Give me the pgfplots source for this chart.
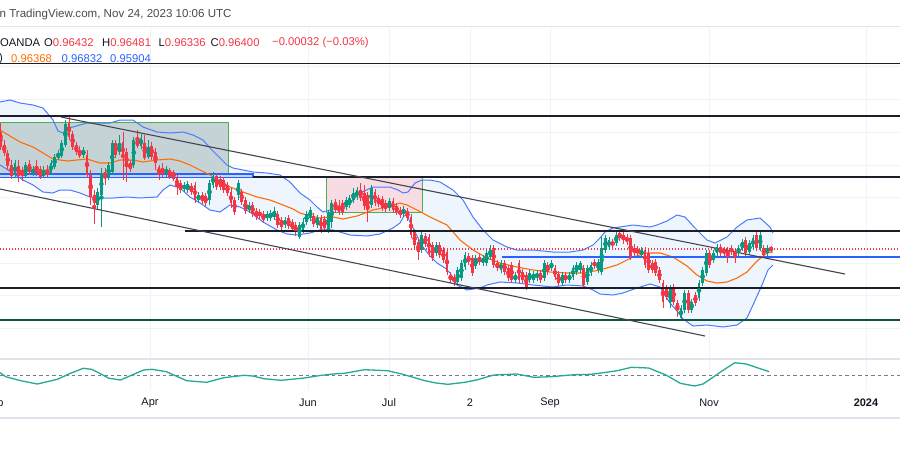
\documentclass[border=0pt]{standalone}
\usepackage{pgfplots}
\pgfplotsset{compat=1.18}
\usepackage{pgfplotstable}
\usepackage{fontspec}
\setmainfont{Liberation Sans}
\definecolor{cgreen}{HTML}{089981}
\definecolor{cred}{HTML}{F23645}
\definecolor{bbline}{HTML}{2962FF}
\definecolor{bbfill}{HTML}{EEF5FD}
\definecolor{sma}{HTML}{FF6D00}
\definecolor{gridc}{HTML}{F0F3FA}
\definecolor{sepc}{HTML}{E0E3EB}
\definecolor{txt}{HTML}{131722}
\definecolor{ttl}{HTML}{4A4A4A}
\definecolor{hline}{HTML}{1B1E27}
\definecolor{chan}{HTML}{434651}
\definecolor{boxgray}{HTML}{C5D3D6}
\definecolor{boxgreen}{HTML}{4CAF50}
\definecolor{pinkfill}{HTML}{F8DCE3}
\definecolor{bluerect}{HTML}{C4D8FB}
\definecolor{osc}{HTML}{22AB94}
\definecolor{dgreen}{HTML}{0E5240}
\definecolor{dashc}{HTML}{787B86}

% candles: k = index (x = 0.6 + 3.6 k px), bt/bb body top/bottom, wt/wb wick top/bottom (pixel rows)
\pgfplotstableread{
k bt bb wt wb
4 163 175 160 178
7 165 176 162 178
9 169 174 166 176
12 170 176 166 178
14 163 173 160 175
15 157 167 154 169
16 153 158 150 160
17 143 156 140 158
18 124 145 120 147
23 150 155 147 158
27 192 205 188 210
28 173 195 168 227
30 165 177 162 180
31 143 172 140 174
33 143 152 135 155
37 140 165 137 168
39 138 146 134 149
41 147 157 140 159
46 169 173 166 177
51 185 189 182 192
52 184 190 181 193
55 195 200 192 203
58 183 200 180 205
59 176 185 172 188
66 183 195 180 200
69 205 210 202 213
74 214 218 211 221
75 213 218 210 221
76 211 217 207 220
79 220 225 217 228
83 225 237 222 239
84 222 230 218 233
85 214 222 211 225
86 210 218 207 221
88 218 225 215 228
91 213 230 210 233
92 203 222 200 228
96 200 207 197 210
97 198 205 195 208
98 193 200 188 203
99 190 197 187 200
103 188 205 185 208
108 201 208 198 211
112 209 214 206 217
117 235 250 232 253
121 245 253 242 256
127 270 282 267 285
128 263 278 260 281
129 255 267 252 270
132 258 266 255 269
134 258 263 255 266
135 253 263 250 266
136 250 257 245 260
139 263 270 260 273
143 275 280 272 283
147 273 280 270 283
148 274 280 271 283
149 273 278 270 281
151 263 278 260 281
153 263 268 260 271
156 275 283 272 286
158 275 280 272 283
159 268 277 265 280
160 265 272 262 275
161 263 270 261 273
163 268 282 265 285
164 265 273 262 276
166 262 270 259 273
167 248 272 237 275
168 238 250 235 253
169 240 247 237 250
171 235 243 232 246
178 250 255 247 258
186 288 302 285 308
189 308 318 305 320
190 293 310 290 313
192 302 310 299 313
194 283 298 280 301
195 270 283 267 286
196 253 273 250 276
198 253 260 250 263
199 247 253 244 256
205 248 253 245 256
206 242 248 239 251
208 243 252 240 255
209 238 247 235 250
211 235 248 232 251
213 248 253 245 256
}\upc

\pgfplotstableread{
k bt bb wt wb
0 132 147 123 150
1 145 153 140 156
2 153 166 150 170
3 165 176 160 179
5 166 176 160 182
6 170 176 167 181
8 164 172 160 175
10 166 173 160 176
11 169 177 166 179
13 170 175 165 177
19 123 137 117 140
20 134 147 131 150
21 145 152 142 155
22 150 156 146 158
24 155 175 150 178
25 175 197 170 205
26 195 203 190 224
29 172 177 168 185
32 143 155 140 158
34 142 158 132 180
35 152 167 148 182
36 163 169 160 172
38 140 146 130 148
40 143 158 135 160
42 146 157 142 160
43 152 163 148 170
44 167 174 165 180
45 168 174 163 178
47 170 177 168 179
48 172 179 170 181
49 178 186 175 195
50 183 190 180 193
53 186 192 183 195
54 185 200 182 203
56 195 201 192 204
57 196 203 193 206
60 176 187 173 190
61 179 187 176 190
62 180 190 177 193
63 185 193 182 196
64 192 203 188 208
65 200 212 197 215
67 192 202 189 205
68 200 211 197 214
70 205 214 202 217
71 211 217 208 220
72 212 216 209 219
73 214 220 211 223
77 214 225 211 228
78 220 227 217 230
80 218 226 215 229
81 222 229 219 232
82 225 232 222 236
87 216 224 213 227
89 218 230 215 233
90 219 228 216 231
93 202 210 199 213
94 206 212 200 215
95 203 212 200 215
100 190 198 183 201
101 193 206 185 210
102 195 210 192 222
104 192 203 189 206
105 198 204 195 207
106 199 208 196 211
107 203 209 200 212
109 201 210 198 213
110 206 212 203 215
111 210 215 207 218
113 211 218 208 221
114 217 235 214 238
115 232 245 229 248
116 242 252 238 260
118 236 244 233 247
119 237 253 234 257
120 245 258 242 261
122 245 255 242 258
123 250 260 247 263
124 252 272 249 275
125 275 280 272 283
126 277 282 274 286
130 256 262 253 265
131 258 273 255 276
133 257 262 254 265
137 248 265 245 268
138 263 268 260 271
140 263 272 260 275
141 268 278 265 281
142 265 280 262 283
144 263 280 260 283
145 272 280 269 283
146 275 287 272 290
150 273 280 270 283
152 265 272 262 275
154 268 277 265 280
155 274 283 271 286
157 275 280 272 283
162 268 285 265 288
165 262 266 259 269
170 242 245 239 248
172 233 238 230 241
173 235 240 232 244
174 237 242 234 245
175 238 257 235 260
176 248 253 244 256
177 250 253 246 256
179 250 265 247 268
180 253 270 250 273
181 263 270 260 273
182 262 273 259 276
183 270 280 267 283
184 283 302 280 308
185 288 297 285 300
187 287 302 284 305
188 303 310 300 317
191 293 310 290 313
193 295 303 292 306
197 253 265 250 268
200 247 253 244 256
201 250 253 247 256
202 250 255 247 263
203 248 252 245 255
204 252 255 249 263
207 240 253 237 256
210 235 248 232 251
212 248 255 245 258
214 248 250 246 252
}\dnc

\pgfplotstableread{
x y
0 102
10 100
20 103
33 105
43 108
53 120
58 131
63 133
67 128
73 127
87 123
100 123
110 123
120 120
133 120
143 127
157 132
170 133
183 132
193 135
203 140
210 148
217 155
227 165
233 168
243 170
253 172
267 173
280 175
290 182
300 193
310 200
317 207
323 212
330 210
340 207
350 203
360 193
373 187
390 187
398 190
403 193
408 192
415 183
422 180
430 180
440 182
453 190
463 200
473 217
483 230
493 240
507 247
517 250
533 250
553 252
570 252
583 250
593 245
600 238
605 232
613 228
633 225
650 227
657 225
667 221
677 215
685 217
695 228
707 240
715 243
727 237
737 227
747 220
760 218
770 227
773 233
}\bbu

\pgfplotstableread{
x y
0 165
13 173
23 180
33 185
43 192
53 193
60 190
70 190
80 193
90 197
100 198
113 198
127 197
140 198
157 197
163 190
170 185
180 188
190 197
200 203
210 210
220 212
230 205
240 207
250 212
263 222
277 230
287 234
297 235
310 233
323 229
333 230
350 235
367 236
380 234
393 228
400 223
404 216
407 215
410 222
417 236
423 247
430 256
437 263
445 268
450 273
457 285
467 290
480 288
487 285
500 282
517 283
533 285
553 287
567 285
583 286
593 290
600 294
613 295
623 293
637 288
650 284
660 287
670 303
677 311
683 319
693 326
707 325
723 327
737 325
747 318
753 305
762 285
768 270
773 265
}\bbl

\pgfplotstableread{
x y
0 130
10 136
20 142
33 147
43 153
53 159
67 161
87 159
100 163
110 163
120 160
133 160
143 162
157 160
170 159
180 161
190 165
200 170
210 175
220 181
230 187
243 192
257 197
270 200
283 205
293 209
300 213
310 216
320 218
333 217
343 219
357 216
373 210
387 207
400 203
407 205
417 210
430 217
447 225
460 240
473 250
487 258
500 263
517 267
533 270
550 272
567 273
583 273
600 270
617 265
633 257
647 253
660 253
673 257
687 266
697 275
707 281
717 283
727 282
737 278
747 272
757 261
767 253
773 252
}\sma

\begin{document}
\begin{tikzpicture}
\path[use as bounding box] (0,0) rectangle (900bp,-453bp);
\begin{axis}[at={(0,0)}, anchor=north west, width=900bp, height=453bp,
  scale only axis, xmin=0, xmax=900, ymin=0, ymax=453, y dir=reverse,
  axis lines=none, xtick=\empty, ytick=\empty, clip=true]

% grid
\pgfplotsinvokeforeach{150,308,389,470,550,709,866}{
  \draw[gridc, line width=1bp] (axis cs:#1,27) -- (axis cs:#1,390);}
\pgfplotsinvokeforeach{66,99,132,165,197,230,263,295,328}{
  \draw[gridc, line width=1bp] (axis cs:0,#1) -- (axis cs:900,#1);}
\draw[sepc, line width=1bp] (axis cs:0,26.5) -- (axis cs:900,26.5);
\draw[sepc, line width=2bp] (axis cs:0,359) -- (axis cs:900,359);
\draw[sepc, line width=2bp] (axis cs:0,418) -- (axis cs:900,418);

% Bollinger fill (upper band forward, lower band backward)
\addplot[fill=bbfill, draw=none] coordinates {
(0,102)(10,100)(20,103)(33,105)(43,108)(53,120)(58,131)(63,133)(67,128)(73,127)(87,123)(100,123)(110,123)(120,120)(133,120)(143,127)(157,132)(170,133)(183,132)(193,135)(203,140)(210,148)(217,155)(227,165)(233,168)(243,170)(253,172)(267,173)(280,175)(290,182)(300,193)(310,200)(317,207)(323,212)(330,210)(340,207)(350,203)(360,193)(373,187)(390,187)(398,190)(403,193)(408,192)(415,183)(422,180)(430,180)(440,182)(453,190)(463,200)(473,217)(483,230)(493,240)(507,247)(517,250)(533,250)(553,252)(570,252)(583,250)(593,245)(600,238)(605,232)(613,228)(633,225)(650,227)(657,225)(667,221)(677,215)(685,217)(695,228)(707,240)(715,243)(727,237)(737,227)(747,220)(760,218)(770,227)(773,233)
(773,265)(768,270)(762,285)(753,305)(747,318)(737,325)(723,327)(707,325)(693,326)(683,319)(677,311)(670,303)(660,287)(650,284)(637,288)(623,293)(613,295)(600,294)(593,290)(583,286)(567,285)(553,287)(533,285)(517,283)(500,282)(487,285)(480,288)(467,290)(457,285)(450,273)(445,268)(437,263)(430,256)(423,247)(417,236)(410,222)(407,215)(404,216)(400,223)(393,228)(380,234)(367,236)(350,235)(333,230)(323,229)(310,233)(297,235)(287,234)(277,230)(263,222)(250,212)(240,207)(230,205)(220,212)(210,210)(200,203)(190,197)(180,188)(170,185)(163,190)(157,197)(140,198)(127,197)(113,198)(100,198)(90,197)(80,193)(70,190)(60,190)(53,193)(43,192)(33,185)(23,180)(13,173)(0,165)};

% boxes
\draw[fill=boxgray, draw=boxgreen, line width=1bp] (axis cs:-2,122) rectangle (axis cs:228,177);
\draw[fill=pinkfill, draw=boxgreen, line width=1bp] (axis cs:326,177) rectangle (axis cs:422,212);
\draw[fill=bluerect, draw=bbline, line width=1.2bp] (axis cs:-2,174) rectangle (axis cs:253,177.5);

% Bollinger lines
\addplot[bbline!85!white, line width=1bp] table[x=x,y=y] {\bbu};
\addplot[bbline!85!white, line width=1bp] table[x=x,y=y] {\bbl};
\addplot[sma, line width=1.1bp] table[x=x,y=y] {\sma};

% price line and level
\draw[cred, line width=1.2bp, dash pattern=on 1.2bp off 1.8bp] (axis cs:0,249) -- (axis cs:900,249);
\draw[bbline, line width=1.3bp] (axis cs:502,257) -- (axis cs:900,257);

% candles: wicks
\addplot[cgreen, only marks, mark=none, error bars/.cd, y dir=both, y explicit, error mark=none,
  error bar style={line width=1bp, color=cgreen}]
  table[x expr=0.6+3.6*\thisrow{k}, y expr=(\thisrow{wt}+\thisrow{wb})/2, y error expr=(\thisrow{wb}-\thisrow{wt})/2] {\upc};
\addplot[cred, only marks, mark=none, error bars/.cd, y dir=both, y explicit, error mark=none,
  error bar style={line width=1bp, color=cred}]
  table[x expr=0.6+3.6*\thisrow{k}, y expr=(\thisrow{wt}+\thisrow{wb})/2, y error expr=(\thisrow{wb}-\thisrow{wt})/2] {\dnc};
% candles: bodies
\addplot[cgreen, only marks, mark=none, error bars/.cd, y dir=both, y explicit, error mark=none,
  error bar style={line width=2.8bp, color=cgreen}]
  table[x expr=0.6+3.6*\thisrow{k}, y expr=(\thisrow{bt}+\thisrow{bb})/2, y error expr=(\thisrow{bb}-\thisrow{bt})/2] {\upc};
\addplot[cred, only marks, mark=none, error bars/.cd, y dir=both, y explicit, error mark=none,
  error bar style={line width=2.8bp, color=cred}]
  table[x expr=0.6+3.6*\thisrow{k}, y expr=(\thisrow{bt}+\thisrow{bb})/2, y error expr=(\thisrow{bb}-\thisrow{bt})/2] {\dnc};

% horizontal levels
\draw[hline, line width=1.2bp] (axis cs:0,63.5) -- (axis cs:900,63.5);
\draw[hline, line width=1.2bp] (axis cs:0,116) -- (axis cs:900,116);
\draw[hline, line width=1.2bp] (axis cs:253,177) -- (axis cs:900,177);
\draw[hline, line width=1.2bp] (axis cs:185,231) -- (axis cs:900,231);
\draw[hline, line width=1.2bp] (axis cs:0,288) -- (axis cs:900,288);
\draw[dgreen, line width=1.2bp] (axis cs:0,320) -- (axis cs:900,320);
% channel
\draw[chan, line width=1.1bp] (axis cs:61,117) -- (axis cs:845,274);
\draw[chan, line width=1.1bp] (axis cs:-5,188) -- (axis cs:705,336);

% oscillator pane
\draw[dashc, line width=1bp, dash pattern=on 3.5bp off 3bp] (axis cs:0,375) -- (axis cs:900,375);
\addplot[osc, line width=1.3bp] coordinates {
(0,372.7)(5.7,376.7)(20,380.5)(37.3,384)(57.4,379.3)(70,373.5)(83.2,368.3)(91.8,369.3)(100,373.5)(109,378.3)(120.5,380)(132,375)(143.5,370)(152,369.3)(166.5,371.7)(176,376)(186.6,380.7)(206.7,382.3)(223.9,377.7)(244,375.3)(252.6,376)(264,378.7)(281.3,380.3)(304.3,378)(320,375.5)(333,374)(344.4,373.3)(364.5,369.7)(387.5,370.7)(401.8,374)(414,377.5)(424.8,380.7)(436,383)(447.8,384.3)(465,382.3)(476.5,380)(493.7,375)(516.6,374)(533.9,377.3)(551.1,376.7)(574,374.7)(591.3,374.3)(605,372.5)(617.1,370.7)(631.5,367.3)(648.7,368)(666,375)(680.3,383.3)(694.6,386)(703,384)(709,380)(722,371)(734.8,362.7)(746.3,364)(769.2,371.7)};

% header text
\node[anchor=west, inner sep=0, text=ttl, font=\fontsize{11.6}{13}\selectfont] at (axis cs:-0.5,15) {n TradingView.com, Nov 24, 2023 10:06 UTC};
\node[anchor=west, inner sep=0, text=txt, font=\fontsize{11.3}{13}\selectfont] at (axis cs:0,42.5) {OANDA};
\node[anchor=west, inner sep=0, text=txt, font=\fontsize{11.3}{13}\selectfont] at (axis cs:44,42.5) {O\textcolor{cred}{0.96432}};
\node[anchor=west, inner sep=0, text=txt, font=\fontsize{11.3}{13}\selectfont] at (axis cs:102,42.5) {H\textcolor{cred}{0.96481}};
\node[anchor=west, inner sep=0, text=txt, font=\fontsize{11.3}{13}\selectfont] at (axis cs:158.5,42.5) {L\textcolor{cred}{0.96336}};
\node[anchor=west, inner sep=0, text=txt, font=\fontsize{11.3}{13}\selectfont] at (axis cs:210.5,42.5) {C\textcolor{cred}{0.96400}};
\node[anchor=west, inner sep=0, text=cred, font=\fontsize{11.3}{13}\selectfont] at (axis cs:272,42.5) {−0.00032 (−0.03\%)};
\node[anchor=west, inner sep=0, text=txt, font=\fontsize{11.3}{13}\selectfont] at (axis cs:-1,59) {)};
\node[anchor=west, inner sep=0, text=sma, font=\fontsize{11.3}{13}\selectfont] at (axis cs:11,59) {0.96368};
\node[anchor=west, inner sep=0, text=bbline, font=\fontsize{11.3}{13}\selectfont] at (axis cs:61.5,59) {0.96832};
\node[anchor=west, inner sep=0, text=bbline, font=\fontsize{11.3}{13}\selectfont] at (axis cs:110,59) {0.95904};

% time axis labels
\node[text=txt, font=\fontsize{11}{13}\selectfont] at (axis cs:-6,403) {Feb};
\node[text=txt, font=\fontsize{11}{13}\selectfont] at (axis cs:150,403) {Apr};
\node[text=txt, font=\fontsize{11}{13}\selectfont] at (axis cs:308,403) {Jun};
\node[text=txt, font=\fontsize{11}{13}\selectfont] at (axis cs:389,403) {Jul};
\node[text=txt, font=\fontsize{11}{13}\selectfont] at (axis cs:470,403) {2};
\node[text=txt, font=\fontsize{11}{13}\selectfont] at (axis cs:550,403) {Sep};
\node[text=txt, font=\fontsize{11}{13}\selectfont] at (axis cs:709,403) {Nov};
\node[text=txt, font=\fontsize{11}{13}\selectfont\bfseries] at (axis cs:866,403) {2024};
\end{axis}
\end{tikzpicture}
\end{document}
